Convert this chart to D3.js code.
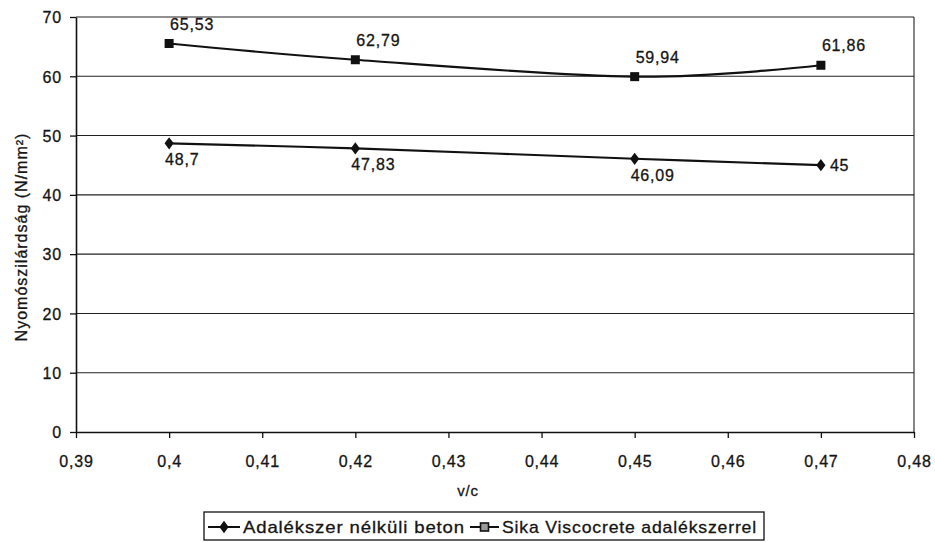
<!DOCTYPE html>
<html>
<head>
<meta charset="utf-8">
<script src="https://cdn.jsdelivr.net/npm/d3@7"></script>
<style>
  html, body { margin: 0; padding: 0; background: #ffffff; }
  svg { display: block; }
  text { font-family: "Liberation Sans", Arial, sans-serif; fill: #151515; stroke: #151515; stroke-width: 0.3px; letter-spacing: 0.8px; }
</style>
</head>
<body>
<svg id="chart" width="935" height="542"></svg>
<script>
// ---- data ----
const xValues = [0.40, 0.42, 0.45, 0.47];
const seriesNames = ["Adalékszer nélküli beton", "Sika Viscocrete adalékszerrel"];
const plainValues = [48.7, 47.83, 46.09, 45];
const sikaValues = [65.53, 62.79, 59.94, 61.86];
const plainLabelSide = ["below", "below", "below", "right"];
const sikaLabelSide = ["above", "above", "above", "above"];
const xTicks = [0.39, 0.40, 0.41, 0.42, 0.43, 0.44, 0.45, 0.46, 0.47, 0.48];
const yTicks = [0, 10, 20, 30, 40, 50, 60, 70];
const xTitle = "v/c";
const yTitle = "Nyomószilárdság (N/mm²)";

(function () {
// ---- layout ----
const svg = d3.select("#chart");
const pL = 76, pR = 914, pT = 17, pB = 432;
const x = d3.scaleLinear().domain([0.39, 0.48]).range([pL, pR]);
const y = d3.scaleLinear().domain([0, 70]).range([pB, pT]);
const fmt = v => String(v).replace(".", ",");

// gridlines
svg.append("g").selectAll("line").data(yTicks.filter(d => d > 0)).join("line")
  .attr("x1", pL).attr("x2", pR)
  .attr("y1", d => y(d)).attr("y2", d => y(d))
  .attr("stroke", "#222").attr("stroke-width", 1.1);

// right border
svg.append("line").attr("x1", pR).attr("x2", pR).attr("y1", pT).attr("y2", pB)
  .attr("stroke", "#222").attr("stroke-width", 1.1);

// x axis
const xAxis = d3.axisBottom(x).tickValues(xTicks).tickSize(6).tickSizeOuter(0)
  .tickFormat(d => fmt(+d.toFixed(2)));
const gx = svg.append("g").attr("transform", `translate(0,${pB})`).call(xAxis);
gx.attr("font-family", null).attr("font-size", null);
gx.select(".domain").attr("stroke", "#111").attr("stroke-width", 1.6);
gx.selectAll(".tick line").attr("stroke", "#111").attr("stroke-width", 1.3);
gx.selectAll(".tick text").attr("dy", null).attr("y", 35)
  .style("font-size", "16px").attr("fill", null);

// y axis
const yAxis = d3.axisLeft(y).tickValues(yTicks).tickSize(6).tickSizeOuter(0).tickFormat(d => d);
const gy = svg.append("g").attr("transform", `translate(${pL},0)`).call(yAxis);
gy.attr("font-family", null).attr("font-size", null);
gy.select(".domain").attr("stroke", "#111").attr("stroke-width", 1.6);
gy.selectAll(".tick line").attr("stroke", "#111").attr("stroke-width", 1.3);
gy.selectAll(".tick text").attr("x", -14).attr("dy", "0.36em")
  .style("font-size", "16px").attr("fill", null);

// titles
svg.append("text").attr("x", 468).attr("y", 496).attr("text-anchor", "middle")
  .style("font-size", "15px").text(xTitle);
svg.append("text").attr("transform", "translate(27,237) rotate(-90)").attr("text-anchor", "middle")
  .style("font-size", "16px").style("letter-spacing", "1px").text(yTitle);

// lines
const line = d3.line().x(d => x(d[0])).y(d => y(d[1])).curve(d3.curveCardinal.tension(0));
const plainPts = xValues.map((v, i) => [v, plainValues[i]]);
const sikaPts = xValues.map((v, i) => [v, sikaValues[i]]);
[plainPts, sikaPts].forEach(pts => {
  svg.append("path").datum(pts).attr("d", line)
    .attr("fill", "none").attr("stroke", "#111").attr("stroke-width", 2.2);
});

// markers
const diamond = d3.symbol().type(d3.symbolDiamond).size(60);
svg.append("g").selectAll("path").data(plainPts).join("path")
  .attr("d", diamond).attr("transform", d => `translate(${x(d[0])},${y(d[1])}) scale(1.1,0.85)`)
  .attr("fill", "#111");
svg.append("g").selectAll("rect").data(sikaPts).join("rect")
  .attr("x", d => x(d[0]) - 4.5).attr("y", d => y(d[1]) - 4.5)
  .attr("width", 9).attr("height", 9).attr("fill", "#111");

// data labels
function labelPos(side) {
  if (side === "above") return { dx: 1, dy: -14, anchor: "start" };
  if (side === "below") return { dx: -4, dy: 22, anchor: "start" };
  return { dx: 9, dy: 6, anchor: "start" };
}
svg.append("g").selectAll("text").data(plainPts).join("text")
  .each(function(d, i) {
    const p = labelPos(plainLabelSide[i]);
    d3.select(this).attr("x", x(d[0]) + p.dx).attr("y", y(d[1]) + p.dy).attr("text-anchor", p.anchor);
  })
  .style("font-size", "16px").text(d => fmt(d[1]));
svg.append("g").selectAll("text").data(sikaPts).join("text")
  .each(function(d, i) {
    const p = labelPos(sikaLabelSide[i]);
    d3.select(this).attr("x", x(d[0]) + p.dx).attr("y", y(d[1]) + p.dy).attr("text-anchor", p.anchor);
  })
  .style("font-size", "16px").text(d => fmt(d[1]));

// legend
const lg = svg.append("g");
lg.append("rect").attr("x", 204).attr("y", 512).attr("width", 560).attr("height", 28)
  .attr("fill", "#fff").attr("stroke", "#111").attr("stroke-width", 1.3);
const items = [
  { name: seriesNames[0], x0: 208, len: 32, tx: 243, tw: 222, marker: "diamond" },
  { name: seriesNames[1], x0: 470, len: 29, tx: 502, tw: 255, marker: "square" }
];
items.forEach(it => {
  const cy = 527;
  lg.append("line").attr("x1", it.x0).attr("x2", it.x0 + it.len).attr("y1", cy).attr("y2", cy)
    .attr("stroke", "#111").attr("stroke-width", 2);
  if (it.marker === "diamond") {
    lg.append("path").attr("d", diamond).attr("transform", `translate(${it.x0 + it.len / 2},${cy}) scale(1.1,0.85)`).attr("fill", "#111");
  } else {
    lg.append("rect").attr("x", it.x0 + it.len / 2 - 4).attr("y", cy - 4).attr("width", 8).attr("height", 8)
      .attr("fill", "#999").attr("stroke", "#111").attr("stroke-width", 1.6);
  }
  lg.append("text").attr("x", it.tx).attr("y", cy + 6).style("font-size", "17px")
    .attr("textLength", it.tw).attr("lengthAdjust", "spacingAndGlyphs").text(it.name);
});
})();
</script>
</body>
</html>
